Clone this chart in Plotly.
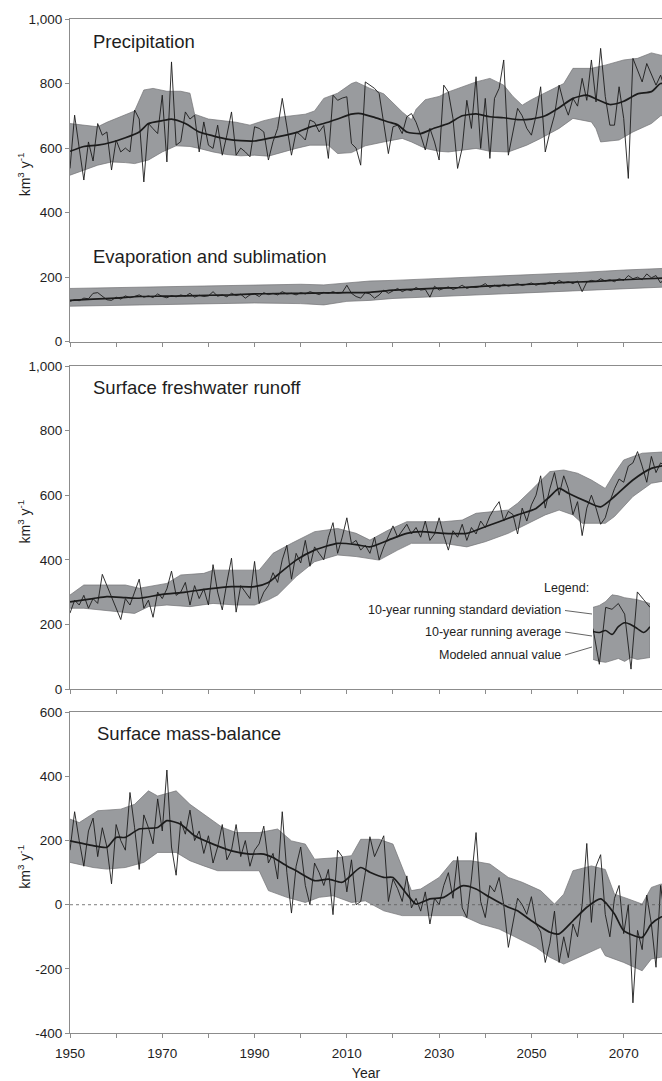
import plotly.graph_objects as go

# ---------------- data ----------------
years = list(range(1950, 2081))

precip_annual = [
    537, 702, 600, 501, 619, 560, 676, 640, 650, 532,
    625, 588, 600, 588, 718, 690, 495, 676, 660, 645,
    764, 557, 867, 609, 620, 712, 690, 702, 588, 681,
    609, 599, 671, 578, 640, 712, 578, 600, 588, 573,
    666, 661, 650, 563, 620, 661, 754, 660, 578, 650,
    640, 625, 687, 680, 650, 670, 568, 764, 748, 755,
    759, 614, 600, 547, 805, 795, 785, 769, 671, 583,
    666, 671, 645, 697, 707, 680, 640, 594, 661, 619,
    563, 795, 774, 692, 537, 600, 748, 661, 821, 599,
    754, 568, 754, 785, 873, 578, 650, 723, 700, 661,
    640, 700, 790, 588, 650, 702, 795, 740, 702, 754,
    730, 816, 748, 873, 743, 909, 760, 671, 671, 790,
    692, 506, 878, 840, 805, 862, 830, 795, 826, 780,
    800]
precip_avg_years = [1950, 1953, 1956, 1959, 1962, 1965, 1967, 1970, 1972, 1975, 1978, 1981, 1984, 1987,
                    1990, 1993, 1996, 1999, 2002, 2005, 2008, 2011, 2013, 2016, 2019, 2021, 2023, 2026,
                    2029, 2032, 2035, 2038, 2041, 2044, 2047, 2050, 2053, 2056, 2059, 2062, 2064, 2067,
                    2070, 2073, 2076, 2078, 2080]
precip_avg = [590, 605, 609, 618, 632, 650, 676, 685, 690, 676, 650, 638, 628, 623,
              622, 630, 638, 648, 665, 676, 690, 705, 707, 695, 681, 672, 650, 645,
              662, 676, 700, 706, 697, 694, 688, 690, 700, 725, 754, 764, 752, 735,
              745, 768, 775, 800, 800]
precip_up_years = [1950, 1953, 1956, 1958, 1961, 1964, 1966, 1968, 1971, 1974, 1976, 1977, 1980, 1983,
                   1986, 1989, 1992, 1995, 1998, 2001, 2003, 2005, 2008, 2011, 2012, 2015, 2018, 2020,
                   2022, 2024, 2025, 2027, 2030, 2032, 2035, 2038, 2041, 2044, 2046, 2048, 2050, 2052,
                   2055, 2057, 2059, 2063, 2066, 2070, 2073, 2076, 2078, 2080]
precip_up = [676, 672, 666, 680, 697, 715, 780, 785, 776, 776, 770, 705, 690, 684,
             680, 671, 685, 695, 700, 705, 715, 754, 770, 800, 805, 785, 768, 740,
             712, 688, 720, 750, 760, 774, 790, 805, 816, 795, 760, 733, 750, 764,
             785, 800, 847, 847, 857, 873, 878, 895, 888, 885]
precip_lo_years = [1950, 1953, 1956, 1959, 1962, 1964, 1967, 1970, 1973, 1976, 1978, 1981, 1984, 1987,
                   1990, 1993, 1996, 1999, 2002, 2006, 2008, 2011, 2014, 2018, 2022, 2024, 2027, 2030,
                   2032, 2035, 2038, 2041, 2045, 2049, 2052, 2056, 2059, 2063, 2064, 2065, 2069, 2072,
                   2076, 2078, 2080]
precip_lo = [516, 532, 547, 557, 555, 552, 563, 588, 607, 605, 599, 588, 580, 576,
             578, 575, 588, 599, 609, 609, 583, 586, 607, 619, 630, 619, 599, 590,
             588, 594, 599, 590, 588, 609, 630, 661, 692, 681, 660, 619, 625, 650,
             676, 700, 705]

evap_annual = [
    125, 130, 127, 135, 133, 150, 152, 140, 130, 128,
    138, 132, 142, 136, 140, 145, 138, 142, 137, 148,
    140, 136, 143, 139, 145, 141, 150, 138, 144, 140,
    142, 155, 141, 145, 139, 150, 143, 147, 135, 145,
    148, 140, 152, 146, 150, 145, 155, 148, 150, 145,
    152, 148, 155, 150, 146, 153, 150, 155, 150, 152,
    175, 150, 140, 135, 152, 148, 135, 145, 160, 150,
    158, 165, 155, 162, 158, 168, 160, 162, 138, 172,
    160, 165, 170, 162, 167, 175, 165, 170, 168, 172,
    180, 168, 175, 170, 178, 172, 176, 180, 174, 178,
    182, 175, 180, 178, 185, 178, 190, 182, 186, 180,
    188, 155, 185, 190, 186, 195, 188, 192, 186, 195,
    190, 205, 195, 200, 192, 210, 198, 205, 182, 200,
    198]
evap_avg_years = [1950, 1955, 1960, 1965, 1970, 1975, 1980, 1985, 1990, 1995, 2000, 2005, 2010, 2015,
                  2020, 2025, 2030, 2035, 2040, 2045, 2050, 2055, 2060, 2065, 2070, 2075, 2080]
evap_avg = [128, 132, 135, 140, 141, 142, 144, 145, 148, 149, 150, 151, 152, 153,
            160, 163, 166, 168, 172, 175, 178, 182, 185, 188, 192, 195, 198]
evap_up_years = [1950, 1960, 1970, 1980, 1990, 2000, 2005, 2010, 2015, 2020, 2030, 2040, 2050, 2060, 2070, 2080]
evap_up = [165, 168, 170, 172, 177, 178, 176, 182, 188, 190, 196, 200, 206, 214, 222, 228]
evap_lo_years = [1950, 1960, 1970, 1980, 1990, 2000, 2005, 2010, 2015, 2020, 2030, 2040, 2050, 2060, 2070, 2080]
evap_lo = [110, 112, 114, 117, 120, 118, 114, 125, 128, 134, 140, 145, 152, 157, 164, 170]

runoff_annual = [
    235, 275, 260, 290, 250, 280, 265, 355, 320, 285,
    250, 215, 280, 260, 300, 340, 250, 275, 222, 300,
    280, 310, 365, 290, 300, 330, 260, 320, 280, 310,
    260, 385, 300, 245, 330, 405, 238, 320, 300, 280,
    395, 265, 300, 320, 360, 330, 400, 445, 340, 420,
    390, 460, 380, 440, 420, 400, 470, 515, 420, 470,
    530, 450, 460, 430, 445, 420, 470, 400, 440, 470,
    505, 470, 490, 510, 480, 500, 470, 520, 460, 480,
    530, 475, 430, 490, 470, 510, 460, 500, 480, 520,
    500, 535, 560, 580, 520, 550, 540, 480, 560, 520,
    570, 600, 660, 560, 620, 670, 600, 660, 620, 540,
    580, 475, 560, 600, 560, 510, 530, 580, 620, 650,
    640, 690, 700, 735, 690, 640, 720, 670, 700, 690,
    700]
runoff_avg_years = [1950, 1955, 1958, 1962, 1965, 1970, 1975, 1980, 1985, 1990, 1993, 1995, 1999, 2003,
                    2008, 2012, 2015, 2019, 2023, 2026, 2031, 2036, 2039, 2043, 2047, 2051, 2054, 2056,
                    2058, 2062, 2065, 2068, 2072, 2076, 2080]
runoff_avg = [270, 280, 286, 283, 281, 293, 300, 310, 317, 317, 330, 353, 399, 430,
              451, 447, 440, 461, 482, 487, 482, 482, 497, 518, 539, 559, 596, 621,
              606, 580, 564, 596, 647, 683, 695]
runoff_up_years = [1950, 1953, 1962, 1965, 1971, 1974, 1979, 1981, 1991, 1994, 1998, 2003, 2008, 2012,
                   2015, 2019, 2023, 2031, 2035, 2038, 2045, 2047, 2050, 2054, 2057, 2060, 2063, 2066,
                   2068, 2070, 2074, 2080]
runoff_up = [291, 322, 322, 312, 327, 353, 358, 368, 368, 420, 451, 487, 497, 482,
             461, 492, 518, 518, 523, 544, 554, 575, 616, 673, 678, 668, 647, 621,
             668, 709, 730, 735]
runoff_lo_years = [1950, 1953, 1960, 1964, 1967, 1971, 1976, 1981, 1986, 1990, 1993, 1995, 1999, 2003,
                   2008, 2012, 2017, 2021, 2024, 2031, 2036, 2040, 2045, 2048, 2053, 2056, 2059, 2061,
                   2066, 2068, 2072, 2076, 2080]
runoff_lo = [250, 250, 240, 234, 255, 260, 255, 265, 260, 260, 276, 291, 348, 394,
             415, 410, 399, 430, 451, 451, 440, 456, 482, 502, 539, 554, 539, 513,
             513, 534, 596, 637, 647]

smb_annual = [
    170, 290, 200, 120, 230, 270, 150, 240, 180, 65,
    250, 200, 170, 350, 240, 110, 280, 240, 190, 330,
    230, 420, 180, 92, 260, 220, 295, 200, 230, 160,
    215, 130, 180, 250, 140, 170, 250, 150, 200, 120,
    170, 190, 245, 130, 160, 80, 290, 100, -26, 120,
    180, 60, 0, 130, 100, 60, 110, -31, 170, 150,
    40, 140, 0, 10, 100, 212, 150, 185, 215, 10,
    80, 50, 10, 90, -10, 20, -20, 40, -60, 20,
    0, 60, 100, 20, 150, -10, -40, 80, 225, 10,
    -40, 60, 40, 85, 0, -133, -60, 20, 0, -30,
    25, -60, -85, -180, -120, -20, -180, -100, -165, -60,
    -100, 0, 191, -55, 120, 156, -30, -100, 20, 60,
    -90, 0, -306, -80, -140, 30, -60, -195, 60, -50,
    -30]
smb_avg_years = [1950, 1955, 1958, 1960, 1962, 1965, 1969, 1971, 1974, 1977, 1981, 1985, 1989, 1992,
                 1994, 1997, 1999, 2003, 2006, 2009, 2013, 2015, 2018, 2020, 2023, 2025, 2028, 2031,
                 2035, 2038, 2041, 2045, 2047, 2050, 2054, 2056, 2059, 2062, 2065, 2068, 2070, 2074,
                 2076, 2078, 2080]
smb_avg = [199, 184, 179, 210, 210, 236, 241, 262, 251, 215, 189, 168, 158, 158,
           147, 121, 106, 75, 80, 70, 116, 101, 85, 85, 33, 2, 18, 23,
           59, 49, 23, -8, -19, -50, -86, -91, -50, -8, 18, -29, -81, -102,
           -60, -39, -30]
smb_up_years = [1950, 1952, 1956, 1961, 1964, 1967, 1969, 1973, 1976, 1980, 1983, 1986, 1991, 1995,
                1998, 2001, 2003, 2008, 2011, 2013, 2017, 2020, 2022, 2024, 2026, 2030, 2033, 2037,
                2041, 2045, 2048, 2052, 2055, 2057, 2059, 2063, 2066, 2068, 2071, 2074, 2076, 2078,
                2080]
smb_up = [267, 256, 293, 298, 313, 355, 339, 355, 313, 272, 241, 225, 225, 236,
          199, 189, 142, 147, 153, 204, 204, 189, 116, 44, 49, 85, 137, 137,
          127, 85, 70, 44, 2, 33, 106, 121, 110, 33, 18, 2, 54, 64,
          66]
smb_lo_years = [1950, 1955, 1958, 1962, 1966, 1969, 1973, 1976, 1979, 1982, 1987, 1991, 1993, 1997,
                2001, 2004, 2007, 2011, 2014, 2018, 2022, 2035, 2039, 2043, 2046, 2051, 2054, 2057,
                2061, 2065, 2066, 2070, 2074, 2076, 2078, 2080]
smb_lo = [132, 116, 111, 116, 132, 163, 163, 137, 121, 106, 106, 106, 44, 23,
          7, 23, 28, 7, 12, -19, -34, -34, -60, -76, -97, -133, -164, -185,
          -159, -133, -159, -180, -206, -169, -164, -160]

# small sample drawn in the legend box
legend_x = [0, 1, 2, 3, 4, 5, 6, 7, 8, 9]
legend_up = [62, 64, 68, 75, 74, 72, 71, 70, 68, 66]
legend_lo = [8, 6, 5, 7, 9, 6, 10, 8, 9, 10]
legend_avg = [37, 36, 38, 34, 42, 46, 44, 40, 36, 42]
legend_annual = [40, 3, 62, 60, 66, 55, -2, 78, 70, 62]

panel_titles = ["Precipitation", "Evaporation and sublimation", "Surface freshwater runoff", "Surface mass-balance"]
legend_labels = ["10-year running standard deviation", "10-year running average", "Modeled annual value"]
x_label_vals = list(range(1950, 2080, 20))
y_ticks_top = [0, 200, 400, 600, 800, 1000]
y_ticks_top_text = ["0", "200", "400", "600", "800", "1,000"]
y_ticks_smb = [-400, -200, 0, 200, 400, 600]
y_ticks_smb_text = ["-400", "-200", "0", "200", "400", "600"]

# ---------------- styling ----------------
W, H = 662, 1081
ML, MR, MT, MB = 70, 0, 19, 48
PW = W - ML - MR
PH = H - MT - MB
FONT = "Liberation Sans, Arial, sans-serif"
BAND_FILL = "rgb(153,155,158)"
BAND_EDGE = "rgb(115,115,118)"
LINE_COL = "rgb(28,28,28)"
AXIS_COL = "rgb(140,140,140)"
TXT = "rgb(30,30,30)"


def px_x(px):
    return (px - ML) / PW


def px_y(py):
    return (MT + PH - py) / PH


def dom(top_px, bot_px):
    return [px_y(bot_px), px_y(top_px)]


fig = go.Figure()


def add_series(xa, ya, up_y, up, lo_y, lo, avg_y, avg, annual):
    fig.add_trace(go.Scatter(
        x=list(up_y) + list(reversed(lo_y)), y=list(up) + list(reversed(lo)),
        fill="toself", fillcolor=BAND_FILL, mode="lines",
        line=dict(color=BAND_EDGE, width=0.7),
        xaxis=xa, yaxis=ya, hoverinfo="skip", showlegend=False))
    fig.add_trace(go.Scatter(
        x=avg_y, y=avg, mode="lines", line=dict(color=LINE_COL, width=1.7, shape="spline", smoothing=0.6),
        xaxis=xa, yaxis=ya, showlegend=False))
    fig.add_trace(go.Scatter(
        x=years[:len(annual)], y=annual, mode="lines", line=dict(color=LINE_COL, width=0.9),
        xaxis=xa, yaxis=ya, showlegend=False))


add_series("x", "y", precip_up_years, precip_up, precip_lo_years, precip_lo, precip_avg_years, precip_avg, precip_annual)
add_series("x", "y", evap_up_years, evap_up, evap_lo_years, evap_lo, evap_avg_years, evap_avg, evap_annual)
add_series("x2", "y2", runoff_up_years, runoff_up, runoff_lo_years, runoff_lo, runoff_avg_years, runoff_avg, runoff_annual)
add_series("x3", "y3", smb_up_years, smb_up, smb_lo_years, smb_lo, smb_avg_years, smb_avg, smb_annual)

# legend sample
fig.add_trace(go.Scatter(
    x=legend_x + legend_x[::-1], y=legend_up + legend_lo[::-1], fill="toself", fillcolor=BAND_FILL,
    mode="lines", line=dict(color=BAND_EDGE, width=0.7), xaxis="x4", yaxis="y4", showlegend=False))
fig.add_trace(go.Scatter(x=legend_x, y=legend_avg, mode="lines",
                         line=dict(color=LINE_COL, width=1.6, shape="spline"), xaxis="x4", yaxis="y4", showlegend=False))
fig.add_trace(go.Scatter(x=legend_x, y=legend_annual, mode="lines",
                         line=dict(color=LINE_COL, width=0.9), xaxis="x4", yaxis="y4", showlegend=False))

panels = [(19, 341.7), (366, 689), (712.3, 1033)]

minor_ticks = dict(dtick=10, tick0=1950, ticks="outside", ticklen=4, tickcolor=AXIS_COL, tickwidth=1, showgrid=False)
xcommon = dict(range=[1950, 2078.3], showline=True, linecolor=AXIS_COL, linewidth=1, mirror=True,
               ticks="outside", ticklen=4, tickcolor=AXIS_COL, tickwidth=1, showgrid=False, zeroline=False,
               tickvals=x_label_vals, minor=minor_ticks, tickfont=dict(family=FONT, size=13.5, color=TXT))
ycommon = dict(showline=True, linecolor=AXIS_COL, linewidth=1, ticks="outside", ticklen=4,
               tickcolor=AXIS_COL, tickwidth=1, showgrid=False, zeroline=False,
               tickfont=dict(family=FONT, size=13.5, color=TXT))

fig.update_layout(
    width=W, height=H, margin=dict(l=ML, r=MR, t=MT, b=MB, autoexpand=False),
    paper_bgcolor="white", plot_bgcolor="white", showlegend=False,
    font=dict(family=FONT, color=TXT),
    xaxis=dict(xcommon, anchor="y", showticklabels=False),
    yaxis=dict(ycommon, domain=dom(*panels[0]), range=[0, 1000], tickvals=y_ticks_top,
               ticktext=y_ticks_top_text, anchor="x"),
    xaxis2=dict(xcommon, anchor="y2", showticklabels=False),
    yaxis2=dict(ycommon, domain=dom(*panels[1]), range=[0, 1000], tickvals=y_ticks_top,
                ticktext=y_ticks_top_text, anchor="x2"),
    xaxis3=dict(xcommon, anchor="y3", ticktext=[str(v) for v in x_label_vals], ticklabelstandoff=4,
                title=dict(text="Year", standoff=8, font=dict(family=FONT, size=14, color=TXT))),
    yaxis3=dict(ycommon, domain=dom(*panels[2]), range=[-400, 600], tickvals=y_ticks_smb,
                ticktext=y_ticks_smb_text, anchor="x3"),
    xaxis4=dict(domain=[px_x(593), px_x(650)], range=[0, 9], visible=False, anchor="y4"),
    yaxis4=dict(domain=dom(590, 672), range=[-5, 80], visible=False, anchor="x4"),
)

# zero reference line in mass-balance panel
fig.add_shape(type="line", xref="x3 domain", x0=0, x1=1, yref="y3", y0=0, y1=0,
              line=dict(color="rgb(90,90,90)", width=0.8, dash="dot"))

ann = []
title_pos = [(90.8, 41.7), (90.8, 256.7), (90.8, 388), (95, 733.3)]
for t, (xp, yp) in zip(panel_titles, title_pos):
    ann.append(dict(text=t, xref="paper", yref="paper", x=px_x(xp), y=px_y(yp), xanchor="left",
                    yanchor="middle", showarrow=False, font=dict(family=FONT, size=18.5, color=TXT)))
for (t, b) in panels:
    ann.append(dict(text="km<sup>3</sup> y<sup>-1</sup>", xref="paper", yref="paper", x=px_x(24),
                    y=px_y((t + b) / 2 - 6), textangle=-90, xanchor="center", yanchor="middle",
                    showarrow=False, font=dict(family=FONT, size=14, color=TXT)))

# legend texts and leader lines
ann.append(dict(text="Legend:", xref="paper", yref="paper", x=px_x(591), y=px_y(588), xanchor="right",
                yanchor="middle", showarrow=False, font=dict(family=FONT, size=12.5, color=TXT)))
leg_rows = [(610.5, 614), (632, 636), (655, 647)]
for lab, (ty, ey) in zip(legend_labels, leg_rows):
    ann.append(dict(text=lab, xref="paper", yref="paper", x=px_x(563), y=px_y(ty), xanchor="right",
                    yanchor="middle", showarrow=False, font=dict(family=FONT, size=12.5, color=TXT)))
    fig.add_shape(type="line", xref="paper", yref="paper", x0=px_x(565), y0=px_y(ty), x1=px_x(592),
                  y1=px_y(ey), line=dict(color="rgb(60,60,60)", width=0.8))

fig.update_layout(annotations=ann)
# the page body has a default 8px margin; remove it so the figure sits at the window origin
fig.write_html("out.html", config={"displayModeBar": False},
               post_script="document.body.style.margin='0px';document.body.style.overflow='hidden';")
